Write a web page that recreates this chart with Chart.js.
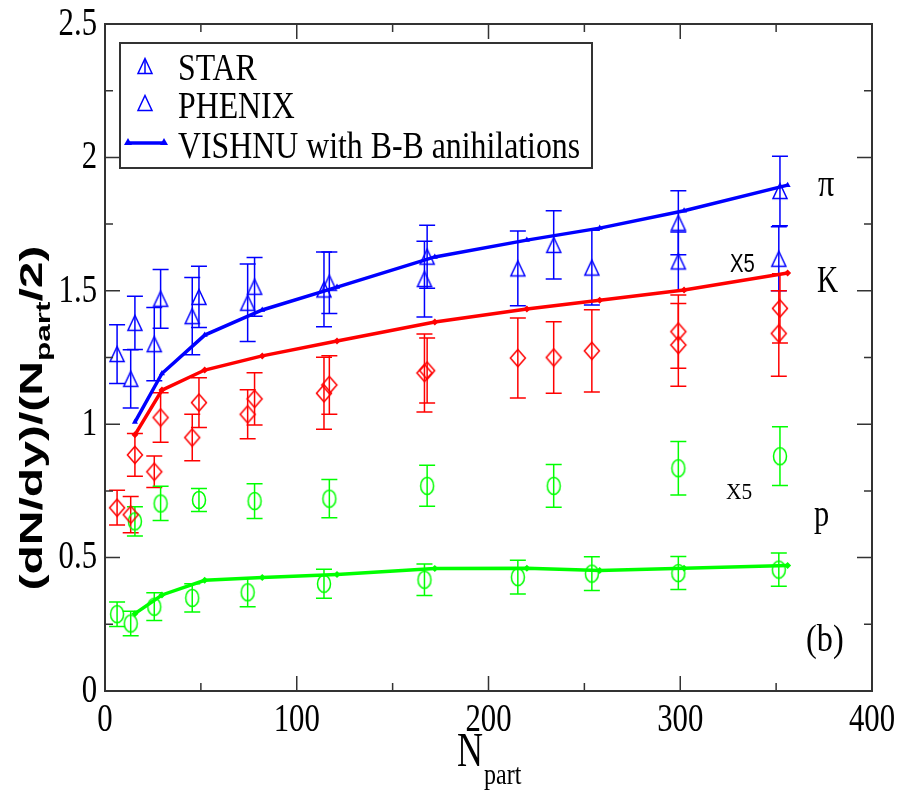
<!DOCTYPE html>
<html>
<head>
<meta charset="utf-8">
<script src="https://cdn.jsdelivr.net/npm/chart.js@4.4.0/dist/chart.umd.min.js"></script>
<style>
  html, body { margin: 0; padding: 0; background: #fff; }
  #c { display: block; }
</style>
</head>
<body>
<canvas id="c" width="903" height="790"></canvas>
<script>
// centrality bins (N_part)
const starNpart = [15.6, 29, 49, 78, 117, 168, 234, 299, 352];
const phenixNpart = [6.3, 13.4, 25.7, 45.5, 74.4, 114.2, 166.6, 215.3, 253.9, 299, 351.4];
const vishnuNpart = [15.6, 29.7, 52, 82, 121, 172, 220, 258, 302, 356];

// pions
const starPion = [1.38, 1.47, 1.477, 1.515, 1.53, 1.628, 1.672, 1.755, 1.874];
const starPionErr = [0.10, 0.11, 0.115, 0.11, 0.115, 0.118, 0.128, 0.12, 0.13];
const phenixPion = [1.263, 1.17, 1.30, 1.405, 1.455, 1.505, 1.544, 1.584, 1.587, 1.61, 1.62];
const phenixPionErr = [0.11, 0.109, 0.137, 0.145, 0.145, 0.14, 0.142, 0.14, 0.14, 0.11, 0.12];
// kaons (x5)
const starKaon = [0.885, 1.025, 1.081, 1.095, 1.147, 1.201, 1.25, 1.347, 1.434];
const starKaonErr = [0.08, 0.093, 0.093, 0.098, 0.11, 0.122, 0.134, 0.137, 0.13];
const phenixKaon = [0.687, 0.661, 0.822, 0.95, 1.037, 1.116, 1.192, 1.248, 1.275, 1.297, 1.34];
const phenixKaonErr = [0.065, 0.068, 0.059, 0.087, 0.092, 0.135, 0.146, 0.15, 0.154, 0.155, 0.16];
// protons
const starProton = [0.636, 0.703, 0.716, 0.712, 0.721, 0.769, 0.769, 0.835, 0.88];
const starProtonErr = [0.055, 0.064, 0.043, 0.065, 0.072, 0.077, 0.08, 0.10, 0.11];
const phenixProton = [0.288, 0.253, 0.316, 0.349, 0.37, 0.402, 0.417, 0.427, 0.44, 0.442, 0.455];
const phenixProtonErr = [0.046, 0.046, 0.052, 0.053, 0.054, 0.054, 0.059, 0.063, 0.063, 0.062, 0.062];

// VISHNU with B-B annihilations
const vishnuPion = [1.008, 1.19, 1.334, 1.428, 1.514, 1.627, 1.69, 1.735, 1.80, 1.896];
const vishnuKaon = [0.96, 1.128, 1.203, 1.256, 1.312, 1.383, 1.432, 1.465, 1.503, 1.567];
const vishnuProton = [0.29, 0.36, 0.415, 0.425, 0.437, 0.459, 0.46, 0.452, 0.46, 0.47];

const xTicks = ['0', '100', '200', '300', '400'];
const yTicks = ['0', '0.5', '1', '1.5', '2', '2.5'];

const BLUE = '#0000ff', RED = '#ff0000', GREEN = '#00ff00';
const SERIF = '"Liberation Serif", "Times New Roman", serif';
const SANS = '"Liberation Sans", Arial, sans-serif';

function pts(xs, ys) { return xs.map((x, i) => ({ x: x, y: ys[i] })); }

// hollow markers like xmgrace
function marker(kind, color) {
  const c = document.createElement('canvas');
  c.width = 20; c.height = 20;
  const g = c.getContext('2d');
  g.strokeStyle = color; g.lineWidth = 1.5;
  g.beginPath();
  if (kind === 'tri') { g.moveTo(10, 2.5); g.lineTo(17, 17.5); g.lineTo(3, 17.5); g.closePath(); }
  else if (kind === 'dia') { g.moveTo(10, 1.5); g.lineTo(17.5, 10); g.lineTo(10, 18.5); g.lineTo(2.5, 10); g.closePath(); }
  else { g.ellipse(10, 10, 6.5, 8.5, 0, 0, Math.PI * 2); }
  g.stroke();
  return c;
}
const triBlue = marker('tri', BLUE), diaRed = marker('dia', RED), ellGreen = marker('ell', GREEN);

function dataSet(label, xs, ys, errs, color, img) {
  return { label: label, data: pts(xs, ys), errors: errs, borderColor: color, backgroundColor: color,
    pointStyle: img, pointRadius: 8, showLine: false };
}
function lineSet(label, ys, color, style) {
  return { label: label, data: pts(vishnuNpart, ys), borderColor: color, backgroundColor: color,
    borderWidth: 3.5, showLine: true, pointStyle: style, pointRadius: 3.5, pointBorderWidth: 0 };
}

function txt(ctx, s, x, y, font, sx, align, base) {
  ctx.save();
  ctx.translate(x, y); ctx.scale(sx, 1);
  ctx.font = font; ctx.textAlign = align || 'left'; ctx.textBaseline = base || 'alphabetic';
  ctx.fillText(s, 0, 0);
  ctx.restore();
}

const errorBars = {
  id: 'errorBars',
  beforeDatasetsDraw(chart) {
    const ctx = chart.ctx, ys = chart.scales.y;
    chart.data.datasets.forEach((ds, i) => {
      if (!ds.errors) return;
      const meta = chart.getDatasetMeta(i);
      ctx.save();
      ctx.strokeStyle = ds.borderColor; ctx.lineWidth = 1.5;
      meta.data.forEach((p, j) => {
        const v = ds.data[j].y, e = ds.errors[j];
        const t = ys.getPixelForValue(v + e), b = ys.getPixelForValue(v - e);
        ctx.beginPath();
        ctx.moveTo(p.x, t); ctx.lineTo(p.x, b);
        ctx.moveTo(p.x - 8, t); ctx.lineTo(p.x + 8, t);
        ctx.moveTo(p.x - 8, b); ctx.lineTo(p.x + 8, b);
        ctx.stroke();
      });
      ctx.restore();
    });
  }
};

const frame = {
  id: 'frame',
  afterDraw(chart) {
    const ctx = chart.ctx, a = chart.chartArea, xs = chart.scales.x, ys = chart.scales.y;
    ctx.save();
    ctx.strokeStyle = '#333'; ctx.lineWidth = 2;
    ctx.strokeRect(a.left, a.top, a.right - a.left, a.bottom - a.top);
    // inward ticks, major + minor
    ctx.lineWidth = 1.5;
    ctx.beginPath();
    for (let v = 0; v <= 400; v += 50) {
      const px = xs.getPixelForValue(v), len = v % 100 === 0 ? 15 : 8;
      ctx.moveTo(px, a.bottom); ctx.lineTo(px, a.bottom - len);
      ctx.moveTo(px, a.top); ctx.lineTo(px, a.top + len);
    }
    for (let v = 0; v <= 2.5001; v += 0.25) {
      const py = ys.getPixelForValue(v), len = Math.round(v * 4) % 2 === 0 ? 15 : 8;
      ctx.moveTo(a.left, py); ctx.lineTo(a.left + len, py);
      ctx.moveTo(a.right, py); ctx.lineTo(a.right - len, py);
    }
    ctx.stroke();
    ctx.fillStyle = '#000';
    // tick labels
    xTicks.forEach(t => txt(ctx, t, xs.getPixelForValue(+t), 731, '41px ' + SERIF, 0.75, 'center'));
    yTicks.forEach(t => txt(ctx, t, 97, ys.getPixelForValue(+t), '41px ' + SERIF, 0.75, 'right', 'middle'));
    // x title
    txt(ctx, 'N', 457, 766, '48px ' + SERIF, 0.75);
    txt(ctx, 'part', 484, 784, '30px ' + SERIF, 0.8);
    // y title (rotated)
    ctx.save();
    ctx.translate(42, 418); ctx.rotate(-Math.PI / 2);
    const f1 = 'bold 32px ' + SANS, f2 = 'bold 21px ' + SANS;
    const p1 = '(dN/dy)/(N', p2 = 'part', p3 = '/2)';
    ctx.font = f1; const w1 = ctx.measureText(p1).width, w3 = ctx.measureText(p3).width;
    ctx.font = f2; const w2 = ctx.measureText(p2).width;
    const k = 345 / (w1 + w2 + w3);
    ctx.scale(k, 1);
    const x0 = -(w1 + w2 + w3) / 2;
    ctx.textBaseline = 'alphabetic'; ctx.textAlign = 'left';
    ctx.font = f1; ctx.fillText(p1, x0, 0);
    ctx.font = f2; ctx.fillText(p2, x0 + w1, 8);
    ctx.font = f1; ctx.fillText(p3, x0 + w1 + w2, 0);
    ctx.restore();
    // annotations
    txt(ctx, 'π', 818, 196, '38px ' + SERIF, 0.85);
    txt(ctx, 'K', 817, 292, '38px ' + SERIF, 0.77);
    txt(ctx, 'p', 814, 526, '38px ' + SERIF, 0.8);
    txt(ctx, '(b)', 806, 651, '38px ' + SERIF, 0.85);
    txt(ctx, 'X5', 730, 272, '26px ' + SANS, 0.78);
    txt(ctx, 'X5', 726, 499, '24px ' + SERIF, 0.89);
    // legend
    ctx.strokeStyle = '#333'; ctx.lineWidth = 2;
    ctx.strokeRect(120, 43, 472, 125);
    ctx.drawImage(triBlue, 135, 56);
    ctx.strokeStyle = BLUE; ctx.lineWidth = 1.5;
    ctx.beginPath(); ctx.moveTo(145, 59); ctx.lineTo(145, 74); ctx.stroke();
    ctx.drawImage(triBlue, 135, 93);
    ctx.lineWidth = 3.5;
    ctx.beginPath(); ctx.moveTo(128, 143); ctx.lineTo(164, 143); ctx.stroke();
    ctx.fillStyle = BLUE;
    [128, 164].forEach(x => { ctx.beginPath(); ctx.moveTo(x, 138); ctx.lineTo(x + 4, 145); ctx.lineTo(x - 4, 145); ctx.closePath(); ctx.fill(); });
    ctx.fillStyle = '#000';
    txt(ctx, 'STAR', 178, 80, '37px ' + SERIF, 0.86);
    txt(ctx, 'PHENIX', 178, 118, '37px ' + SERIF, 0.86);
    txt(ctx, 'VISHNU with B-B anihilations', 178, 158, '37px ' + SERIF, 0.86);
    ctx.restore();
  }
};

new Chart(document.getElementById('c'), {
  type: 'scatter',
  data: {
    datasets: [
      lineSet('VISHNU pi', vishnuPion, BLUE, 'triangle'),
      lineSet('VISHNU K', vishnuKaon, RED, 'rectRot'),
      lineSet('VISHNU p', vishnuProton, GREEN, 'rectRot'),
      dataSet('STAR pi', starNpart, starPion, starPionErr, BLUE, triBlue),
      dataSet('PHENIX pi', phenixNpart, phenixPion, phenixPionErr, BLUE, triBlue),
      dataSet('STAR K', starNpart, starKaon, starKaonErr, RED, diaRed),
      dataSet('PHENIX K', phenixNpart, phenixKaon, phenixKaonErr, RED, diaRed),
      dataSet('STAR p', starNpart, starProton, starProtonErr, GREEN, ellGreen),
      dataSet('PHENIX p', phenixNpart, phenixProton, phenixProtonErr, GREEN, ellGreen)
    ]
  },
  options: {
    responsive: false,
    animation: false,
    devicePixelRatio: 1,
    layout: { padding: { left: 105, right: 31, top: 24, bottom: 99 } },
    plugins: { legend: { display: false }, tooltip: { enabled: false } },
    scales: {
      x: { type: 'linear', min: 0, max: 400, display: false },
      y: { type: 'linear', min: 0, max: 2.5, display: false }
    }
  },
  plugins: [errorBars, frame]
});
</script>
</body>
</html>
